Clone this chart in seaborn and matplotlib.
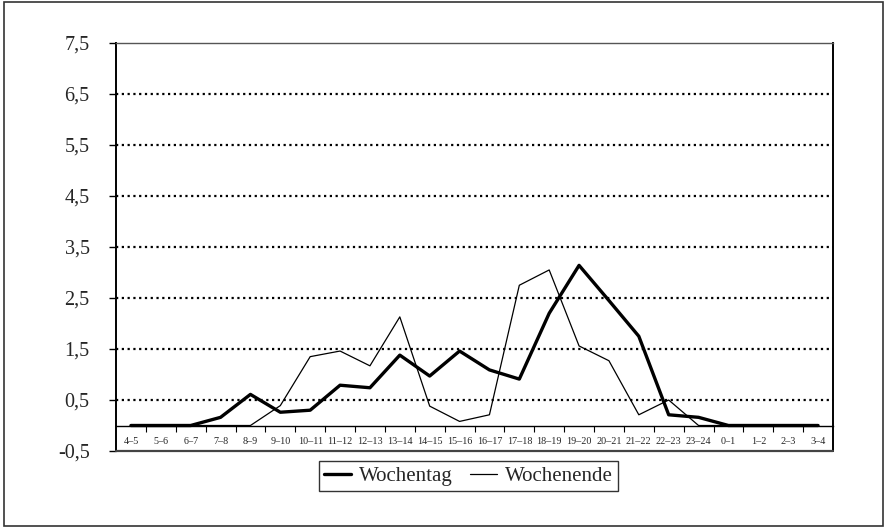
import matplotlib
matplotlib.use("Agg")
import matplotlib.pyplot as plt
import matplotlib.patches as mpatches
from matplotlib.lines import Line2D
import seaborn as sns
import numpy as np
import pandas as pd

# hour slots along the x axis
hours = ["4–5", "5–6", "6–7", "7–8", "8–9", "9–10", "10–11", "11–12",
         "12–13", "13–14", "14–15", "15–16", "16–17", "17–18", "18–19",
         "19–20", "20–21", "21–22", "22–23", "23–24", "0–1", "1–2", "2–3",
         "3–4"]

wochentag = [0, 0, 0, 0.16, 0.61, 0.26, 0.30, 0.79, 0.74, 1.38, 0.97, 1.46,
             1.09, 0.91, 2.20, 3.14, 2.45, 1.75, 0.21, 0.16, 0, 0, 0, 0]
wochenende = [0, 0, 0, 0, 0, 0.39, 1.35, 1.46, 1.17, 2.13, 0.38, 0.08,
              0.21, 2.75, 3.05, 1.56, 1.27, 0.21, 0.50, 0, 0, 0, 0, 0]

y_ticks = [-0.5, 0.5, 1.5, 2.5, 3.5, 4.5, 5.5, 6.5, 7.5]
y_labels = ["-0,5", "0,5", "1,5", "2,5", "3,5", "4,5", "5,5", "6,5", "7,5"]

df = pd.DataFrame({"slot": hours, "Wochentag": wochentag,
                   "Wochenende": wochenende})

sns.set_style("white")
plt.rcParams['font.family'] = ['Liberation Serif', 'DejaVu Serif']

fig = plt.figure(figsize=(8.85, 5.29), dpi=100)
ax = fig.add_axes([116 / 885, 1 - 451 / 529, (833 - 116) / 885,
                   (451 - 43) / 529])

# dotted grid lines
for y in y_ticks[1:-1]:
    ax.axhline(y, color="black", linestyle=(0, (1, 1.6)), linewidth=1.6,
               zorder=1)

sns.lineplot(data=df, x="slot", y="Wochenende", color="black",
             linewidth=0.9, sort=False, ax=ax, zorder=3)
sns.lineplot(data=df, x="slot", y="Wochentag", color="black",
             linewidth=2.4, sort=False, ax=ax, zorder=4)

ax.set_xlim(-0.5, len(hours) - 0.5)
ax.set_ylim(-0.5, 7.5)
ax.set_yticks(y_ticks)
ax.set_yticklabels(y_labels, fontsize=14.5)
ax.set_xlabel("")
ax.set_ylabel("")

# x axis sits at zero, labels below it
ax.spines['bottom'].set_position(('data', 0))
ax.spines['bottom'].set_linewidth(1.0)
ax.spines['left'].set_linewidth(1.4)
ax.spines['right'].set_linewidth(1.4)
ax.spines['top'].set_linewidth(1.0)
ax.spines['top'].set_color("#555555")
for s in ['left', 'right', 'top', 'bottom']:
    ax.spines[s].set_visible(True)
    if s != 'top':
        ax.spines[s].set_color("black")
ax.axhline(-0.5, color="#444444", linewidth=1.6, clip_on=False, zorder=5)

ax.set_xticks(range(len(hours)))
ax.set_xticklabels(hours, fontsize=7.3)
ax.set_xticks(np.arange(0.5, len(hours) - 0.5, 1), minor=True)
ax.tick_params(axis='x', which='major', length=0, pad=8)
ax.tick_params(axis='x', which='minor', length=4, width=0.8,
               direction='out', color="black", bottom=True)
ax.tick_params(axis='y', which='major', length=5, width=1.0,
               direction='out', left=True, color="black", pad=14)

handles = [Line2D([], [], color="black", linewidth=2.4),
           Line2D([], [], color="black", linewidth=0.9)]
leg = ax.legend(handles, ["Wochentag", "Wochenende"], ncol=2,
                loc="upper center", bbox_to_anchor=(468.5 / 885, 1 - 461 / 529),
                bbox_transform=fig.transFigure, fontsize=15,
                frameon=True, fancybox=False, edgecolor="black",
                handlelength=1.3, handletextpad=0.4, columnspacing=0.8,
                borderpad=0.25, borderaxespad=0)
leg.get_frame().set_linewidth(1.0)

# outer frame of the figure
fig.patches.append(mpatches.Rectangle((4 / 885, 3 / 529), 879 / 885,
                                      524 / 529, transform=fig.transFigure,
                                      fill=False, edgecolor="#333333",
                                      linewidth=1.2))

fig.savefig("out.png", dpi=100)
